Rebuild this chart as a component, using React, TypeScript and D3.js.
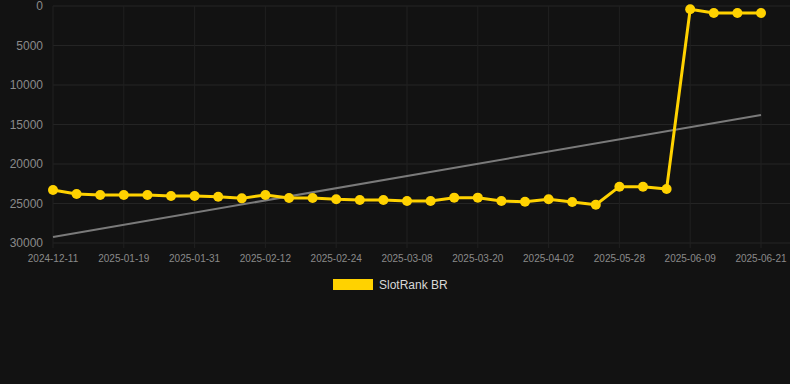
import React from "react";
import * as d3 from "d3";

const categories = [
  "2024-12-11", "2024-12-24", "2025-01-06", "2025-01-19", "2025-01-23", "2025-01-27",
  "2025-01-31", "2025-02-04", "2025-02-08", "2025-02-12", "2025-02-16", "2025-02-20",
  "2025-02-24", "2025-02-28", "2025-03-04", "2025-03-08", "2025-03-12", "2025-03-16",
  "2025-03-20", "2025-03-24", "2025-03-28", "2025-04-02", "2025-04-20", "2025-05-10",
  "2025-05-28", "2025-06-01", "2025-06-05", "2025-06-09", "2025-06-13", "2025-06-17",
  "2025-06-21",
];
const tickLabels = [
  "2024-12-11", "2025-01-19", "2025-01-31", "2025-02-12", "2025-02-24", "2025-03-08",
  "2025-03-20", "2025-04-02", "2025-05-28", "2025-06-09", "2025-06-21",
];
const seriesValues = [
  23290, 23800, 23920, 23920, 23920, 24050, 24050, 24140, 24350, 23920, 24300, 24300,
  24470, 24560, 24560, 24680, 24680, 24260, 24260, 24680, 24770, 24470, 24810, 25150,
  22870, 22870, 23170, 420, 890, 890, 890,
];
const trendValues = [29240, 13800];
const yTicks = [0, 5000, 10000, 15000, 20000, 25000, 30000];
const seriesName = "SlotRank BR";

export default function App() {
  const W = 790, H = 384;
  const left = 53, right = 761, gridRight = 790;
  const top = 6, bottom = 243;
  const x = d3.scalePoint<string>().domain(categories).range([left, right]);
  const y = d3.scaleLinear().domain([0, 30000]).range([top, bottom]);
  const line = d3.line<number>().x((_, i) => x(categories[i])!).y((d) => y(d));
  const yellow = "#FFD200";
  const tf = "Helvetica, Arial, 'Liberation Sans', sans-serif";
  return (
    <div style={{ position: "fixed", left: 0, top: 0, width: W, height: H, background: "#121212" }}>
      <svg width={W} height={H} style={{ display: "block" }}>
        <rect width={W} height={H} fill="#121212" />
        {yTicks.map((t) => (
          <g key={t}>
            <line x1={left} x2={gridRight} y1={y(t)} y2={y(t)} stroke="#242424" strokeWidth={1} />
            <text x={43} y={y(t)} dy="0.35em" textAnchor="end" fill="#8a8a8a" fontSize={12} fontFamily={tf}>
              {t}
            </text>
          </g>
        ))}
        {tickLabels.map((c) => (
          <g key={c}>
            <line x1={x(c)} x2={x(c)} y1={top} y2={bottom + 5} stroke="#202020" strokeWidth={1} />
            <text x={x(c)} y={262} textAnchor="middle" fill="#8a8a8a" fontSize={10} fontFamily={tf}>
              {c}
            </text>
          </g>
        ))}
        <line
          x1={x(categories[0])}
          x2={x(categories[categories.length - 1])}
          y1={y(trendValues[0])}
          y2={y(trendValues[1])}
          stroke="#7a7a7a"
          strokeWidth={2}
        />
        <path d={line(seriesValues) || ""} fill="none" stroke={yellow} strokeWidth={3} strokeLinejoin="round" />
        {seriesValues.map((v, i) => (
          <circle key={i} cx={x(categories[i])} cy={y(v)} r={5} fill={yellow} />
        ))}
        <rect x={333} y={279} width={40} height={11} fill={yellow} />
        <text x={379} y={284.5} dy="0.35em" fill="#d8d8d8" fontSize={12} fontFamily={tf}>
          {seriesName}
        </text>
      </svg>
    </div>
  );
}
